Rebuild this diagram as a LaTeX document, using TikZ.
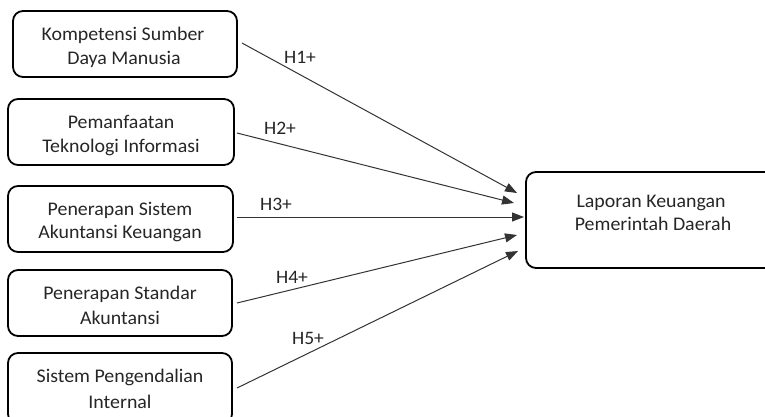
\documentclass[tikz,border=0pt]{standalone}
\usepackage{fontspec}
\setmainfont{Carlito}[FakeStretch=1.03]
\usetikzlibrary{arrows.meta}
\tikzset{
  box/.style={draw=black, line width=1.8pt, rounded corners=10pt},
  txt/.style={anchor=base, inner sep=0pt, font=\fontsize{19.3}{24}\selectfont, text=black!85},
  hyp/.style={anchor=base, inner sep=0pt, font=\fontsize{19}{22}\selectfont, text=black!85},
  arr/.style={draw=black!80, line width=1pt, -{Triangle[length=12pt,width=9pt]}}
}
\begin{document}
\begin{tikzpicture}[x=1pt,y=-1pt]
\useasboundingbox (0,0) rectangle (765,416);
\clip (0,0) rectangle (765,416);
% boxes
\draw[box] (13,11) rectangle (237,77);
\draw[box] (8,99) rectangle (234,165);
\draw[box] (8,186) rectangle (233,252);
\draw[box] (8,270) rectangle (232,336);
\draw[box] (8,353) rectangle (232,424);
\draw[box] (526,172) rectangle (782,268);
% box texts
\node[txt] (t1a) at (123,40) {Kompetensi Sumber};
\node[txt] (t1b) at (124,64) {Daya Manusia};
\node[txt] (t2a) at (121,128) {Pemanfaatan};
\node[txt] (t2b) at (121,152) {Teknologi Informasi};
\node[txt] (t3a) at (120,215) {Penerapan Sistem};
\node[txt] (t3b) at (120,238) {Akuntansi Keuangan};
\node[txt] (t4a) at (120,299) {Penerapan Standar};
\node[txt] (t4b) at (120,324) {Akuntansi};
\node[txt] (t5a) at (120,382) {Sistem Pengendalian};
\node[txt] (t5b) at (120,408) {Internal};
\node[txt] (ra) at (651,207) {Laporan Keuangan};
\node[txt] (rb) at (653,230) {Pemerintah Daerah};
% connector end points
\coordinate (s1) at (242,43);
\coordinate (s2) at (237,133);
\coordinate (s3) at (237,217);
\coordinate (s4) at (237,303);
\coordinate (s5) at (237,388);
\coordinate (e1) at (517,193);
\coordinate (e2) at (514,203);
\coordinate (e3) at (524,217);
\coordinate (e4) at (517,235);
\coordinate (e5) at (518,251);
\draw[arr] (s1) -- (e1);
\draw[arr] (s2) -- (e2);
\draw[arr] (s3) -- (e3);
\draw[arr] (s4) -- (e4);
\draw[arr] (s5) -- (e5);
% labels
\node[hyp] (h1) at (300,63) {H1+};
\node[hyp] (h2) at (280,134) {H2+};
\node[hyp] (h3) at (276,210) {H3+};
\node[hyp] (h4) at (292,283) {H4+};
\node[hyp] (h5) at (308,344) {H5+};
\end{tikzpicture}
\end{document}
